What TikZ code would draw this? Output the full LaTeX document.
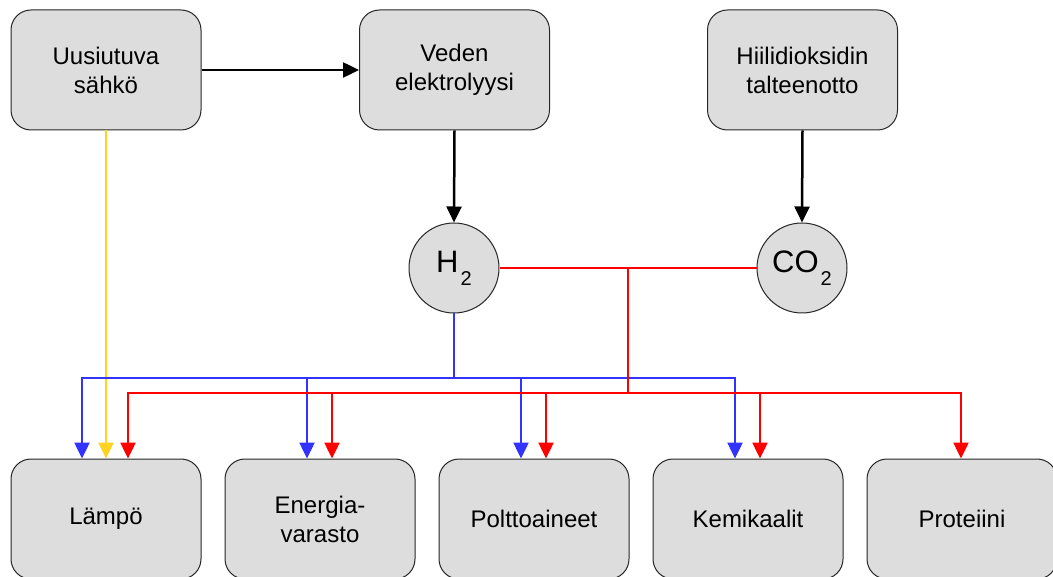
\documentclass[tikz,border=0pt]{standalone}
\usepackage{fontspec}
\setmainfont{Liberation Sans}
\usetikzlibrary{arrows.meta}
\definecolor{boxfill}{HTML}{DDDDDD}
\definecolor{hblue}{HTML}{3333FF}
\definecolor{cred}{HTML}{FF0000}
\definecolor{eyellow}{HTML}{FFD320}
\newcommand{\molsub}[1]{\raisebox{-13pt}{\fontsize{20}{20}\selectfont #1}}
\begin{document}
\begin{tikzpicture}[x=1pt,y=-1pt,
  box/.style={draw=black!85, line width=1pt, fill=boxfill, rounded corners=20pt,
    minimum width=190pt, minimum height=120pt, inner sep=0pt, align=center,
    font=\fontsize{24}{29}\selectfont},
  mol/.style={circle, draw=black!85, line width=1pt, fill=boxfill, minimum size=90pt,
    inner sep=0pt, font=\fontsize{31}{31}\selectfont},
  conn/.style={line width=2.5pt, -{Triangle[length=16pt,width=15pt]}},
]
\useasboundingbox (0,0) rectangle (1053,577);
\node[box] (uus) at (106,70) {Uusiutuva\\sähkö};
\node[box] (ved) at (454.5,70) {Veden\\elektrolyysi};
\node[box] (hii) at (802.5,70) {Hiilidioksidin\\talteenotto};
\node[mol] (h2) at (454,268) {H\kern2pt\molsub{2}};
\node[mol] (co2) at (802,268) {CO\kern2pt\molsub{2}};
\node[box] (lam) at (106,519) {Lämpö};
\node[box] (ene) at (320,519) {Energia-\\varasto};
\node[box] (pol) at (534,519) {Polttoaineet};
\node[box] (kem) at (748,519) {Kemikaalit};
\node[box] (pro) at (962,519) {Proteiini};
\coordinate (bl) at (0,378);
\coordinate (rl) at (0,393);
\coordinate (rj) at (628,268);
% black
\draw[conn] (uus.east) -- (ved.west);
\draw[conn] (ved.south) -- (h2.north);
\draw[conn] (hii.south) -- (co2.north);
% yellow
\draw[conn, eyellow] (uus.south) -- (lam.north);
% blue
\foreach \t/\s in {lam/-24, ene/-13, pol/-13, kem/-13}
  \draw[conn, hblue] (h2.south) -- (h2.south |- bl) -| ([xshift=\s pt]\t.north);
% red
\draw[line width=2.5pt, cred] (h2.east) -- (co2.west);
\foreach \t/\s in {lam/22, ene/12, pol/12, kem/12, pro/-1}
  \draw[conn, cred] (rj) -- (rj |- rl) -| ([xshift=\s pt]\t.north);
\end{tikzpicture}
\end{document}
